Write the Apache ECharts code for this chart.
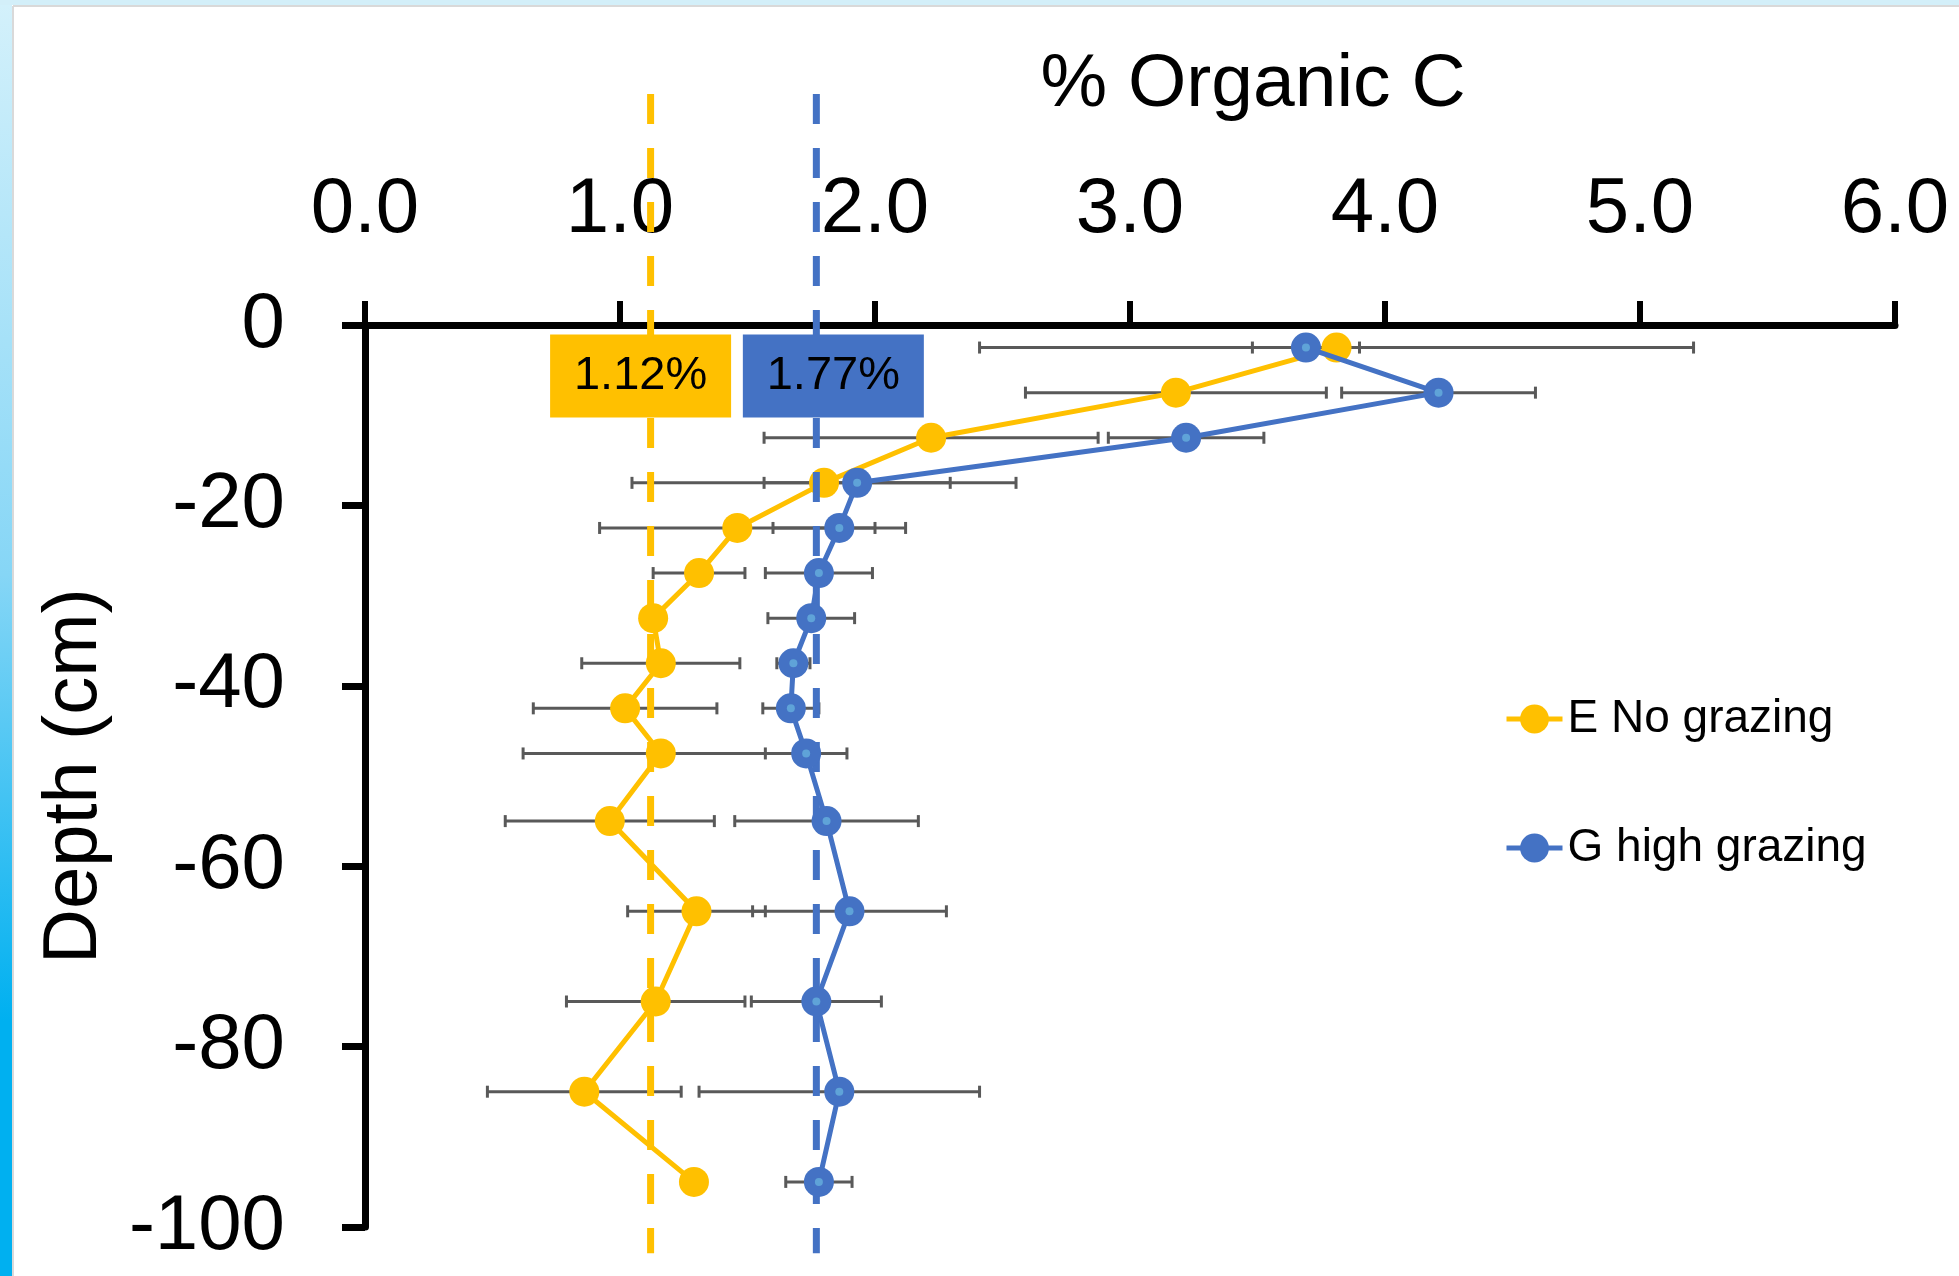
<!DOCTYPE html>
<html><head><meta charset="utf-8">
<script src="https://cdn.jsdelivr.net/npm/echarts@6/dist/echarts.min.js"></script>
<style>html,body{margin:0;padding:0;background:#fff}#c{width:1959px;height:1276px}</style>
</head><body><div id="c"></div>
<script>
// ---- data ----
const depths = [-2.5, -7.5, -12.5, -17.5, -22.5, -27.5, -32.5, -37.5, -42.5, -47.5, -55, -65, -75, -85, -95];
const noGrazing = [3.81, 3.18, 2.22, 1.80, 1.46, 1.31, 1.13, 1.16, 1.02, 1.16, 0.96, 1.30, 1.14, 0.86, 1.29];
const highGrazing = [3.69, 4.21, 3.22, 1.93, 1.86, 1.78, 1.75, 1.68, 1.67, 1.73, 1.81, 1.90, 1.77, 1.86, 1.78];
const noGrazingErr = [1.40, 0.59, 0.655, 0.753, 0.54, 0.18, 0, 0.31, 0.36, 0.54, 0.41, 0.27, 0.35, 0.38, 0];
const highGrazingErr = [0.21, 0.38, 0.305, 0.365, 0.26, 0.21, 0.17, 0.065, 0.11, 0.16, 0.36, 0.38, 0.255, 0.55, 0.13];
const seriesNames = ['E No grazing', 'G high grazing'];
const meanValues = [1.12, 1.77];
const meanLabels = ['1.12%', '1.77%'];
const meanLineDepths = [25.6, -102.9];
const meanLabelDepth = -5.65;
const xTitle = '% Organic C';
const yTitle = 'Depth (cm)';

const YELLOW = '#FFC000', BLUE = '#4472C4', ERR = '#595959';
const FONT = '"Liberation Sans", Arial, sans-serif';

function pairs(xs) { return xs.map((v, i) => [v, depths[i]]); }
function errData(xs, es) { return xs.map((v, i) => [v - es[i], v + es[i], depths[i]]); }

function errRender(params, api) {
  const y = api.value(2);
  const p1 = api.coord([api.value(0), y]);
  const p2 = api.coord([api.value(1), y]);
  const h = 6;
  const st = { stroke: ERR, lineWidth: 3 };
  return {
    type: 'group',
    children: [
      { type: 'line', shape: { x1: p1[0], y1: p1[1], x2: p2[0], y2: p2[1] }, style: st },
      { type: 'line', shape: { x1: p1[0], y1: p1[1] - h, x2: p1[0], y2: p1[1] + h }, style: st },
      { type: 'line', shape: { x1: p2[0], y1: p2[1] - h, x2: p2[0], y2: p2[1] + h }, style: st }
    ]
  };
}

const chart = echarts.init(document.getElementById('c'), null, { renderer: 'canvas' });
chart.setOption({
  animation: false,
  backgroundColor: '#fff',
  graphic: [
    { type: 'rect', shape: { x: 0, y: 0, width: 12, height: 1276 }, z: 100,
      style: { fill: new echarts.graphic.LinearGradient(0, 0, 0, 1, [
        { offset: 0, color: '#d4f1fb' }, { offset: 0.45, color: '#86d6f6' },
        { offset: 0.8, color: '#00b0f0' }, { offset: 1, color: '#00b0f0' }]) } },
    { type: 'rect', shape: { x: 0, y: 0, width: 1959, height: 5 }, z: 100, style: { fill: '#d3eff9' } },
    { type: 'line', shape: { x1: 13, y1: 6, x2: 1959, y2: 6 }, z: 100, style: { stroke: '#d9d9d9', lineWidth: 2 } },
    { type: 'line', shape: { x1: 13, y1: 6, x2: 13, y2: 1276 }, z: 100, style: { stroke: '#d9d9d9', lineWidth: 2 } },
    { type: 'text', x: 1253, y: 85, z: 100,
      style: { text: xTitle, font: '75px ' + FONT, fill: '#000', textAlign: 'center', textVerticalAlign: 'middle' } }
  ],
  grid: { left: 365, right: 64, top: 325, bottom: 49, containLabel: false, outerBoundsMode: 'none' },
  legend: {
    data: seriesNames,
    orient: 'vertical',
    left: 1499, top: 691,
    itemWidth: 56, itemHeight: 36, itemGap: 83,
    lineStyle: { width: 5 },
    textStyle: { fontFamily: FONT, fontSize: 46, color: '#000', lineHeight: 46 }
  },
  xAxis: {
    type: 'value', position: 'top', min: 0, max: 6, interval: 1,
    axisLine: { show: true, onZero: false, lineStyle: { color: '#000', width: 7 } },
    axisTick: { show: true, inside: false, length: 24, lineStyle: { color: '#000', width: 6 } },
    axisLabel: { margin: 76, fontFamily: FONT, fontSize: 78, color: '#000', formatter: v => v.toFixed(1) },
    splitLine: { show: false }
  },
  yAxis: {
    type: 'value', min: -100, max: 0, interval: 20,
    name: yTitle, nameLocation: 'middle', nameGap: 252, nameRotate: 90,
    nameTextStyle: { fontFamily: FONT, fontSize: 76, color: '#000' },
    axisLine: { show: true, onZero: false, lineStyle: { color: '#000', width: 7 } },
    axisTick: { show: true, inside: false, length: 23, lineStyle: { color: '#000', width: 7 } },
    axisLabel: { margin: 80, fontFamily: FONT, fontSize: 78, color: '#000' },
    splitLine: { show: false }
  },
  series: [
    { type: 'custom', name: 'errE', renderItem: errRender, data: errData(noGrazing, noGrazingErr),
      encode: { x: [0, 1], y: 2 }, z: 2, silent: true },
    { type: 'custom', name: 'errG', renderItem: errRender, data: errData(highGrazing, highGrazingErr),
      encode: { x: [0, 1], y: 2 }, z: 2, silent: true },
    { type: 'line', name: 'meanE', data: meanLineDepths.map(d => [meanValues[0], d]), symbol: 'none', clip: false,
      lineStyle: { color: YELLOW, width: 7, type: [30, 24] }, z: 3, silent: true },
    { type: 'line', name: seriesNames[0], data: pairs(noGrazing), symbol: 'circle', symbolSize: 30,
      itemStyle: { color: YELLOW, opacity: 1 }, lineStyle: { color: YELLOW, width: 5 }, z: 4 },
    { type: 'line', name: 'meanG', data: meanLineDepths.map(d => [meanValues[1], d]), symbol: 'none', clip: false,
      lineStyle: { color: BLUE, width: 7, type: [30, 24] }, z: 5, silent: true },
    { type: 'line', name: seriesNames[1], data: pairs(highGrazing), symbol: 'circle', symbolSize: 30,
      itemStyle: { color: BLUE, opacity: 1 }, lineStyle: { color: BLUE, width: 5 }, z: 6 },
    { type: 'scatter', name: 'dotsG', data: pairs(highGrazing), symbol: 'circle', symbolSize: 8,
      itemStyle: { color: '#5fa3d8', opacity: 1 }, z: 7, silent: true },
    { type: 'scatter', name: 'labels', z: 8, silent: true, clip: false,
      data: [
        { value: [meanValues[0], meanLabelDepth], symbolOffset: [-10, 0], itemStyle: { color: YELLOW, opacity: 1 },
          label: { formatter: meanLabels[0] } },
        { value: [meanValues[1], meanLabelDepth], symbolOffset: [17, 0], itemStyle: { color: BLUE, opacity: 1 },
          label: { formatter: meanLabels[1] } }
      ],
      symbol: 'rect', symbolSize: [181, 83],
      label: { show: true, position: 'inside', fontFamily: FONT, fontSize: 47, color: '#000' }
    }
  ]
});
</script></body></html>
